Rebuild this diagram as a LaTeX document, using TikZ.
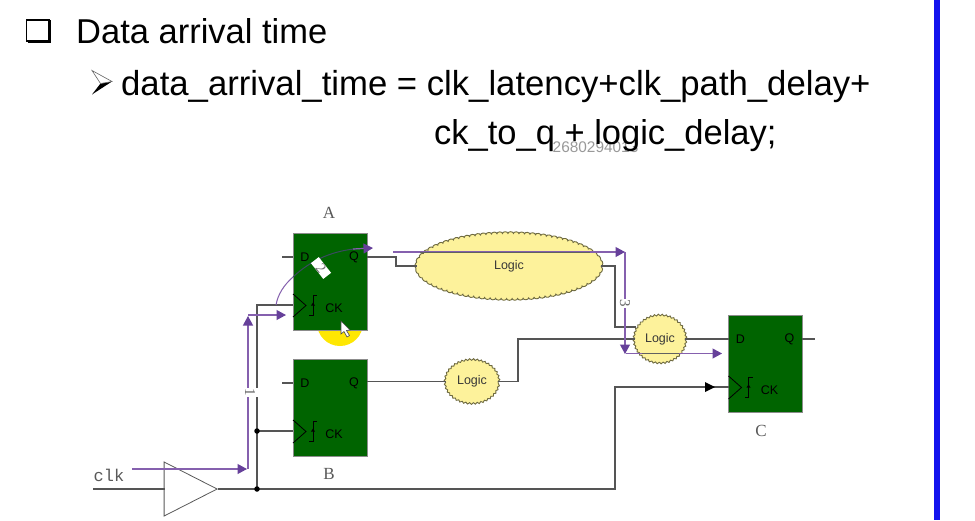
\documentclass[tikz,border=0pt]{standalone}
\usepackage{fontspec}
\setmainfont{Liberation Sans}
\newfontfamily\serifx{Liberation Serif}
\newfontfamily\monox{Liberation Mono}
\usetikzlibrary{arrows.meta,shapes.geometric,decorations.pathmorphing,calc}
\definecolor{ffgreen}{HTML}{006400}
\definecolor{wire}{HTML}{555555}
\definecolor{pur}{HTML}{8560AE}
\definecolor{purdark}{HTML}{66409A}
\definecolor{arcdark}{HTML}{3A4A60}
\definecolor{cloudy}{HTML}{FDF29B}
\definecolor{cloudedge}{HTML}{6E6A40}
\definecolor{slateb}{HTML}{1414EE}
\tikzset{
  x=1pt,y=-1pt,
  headtext/.style={anchor=base west,inner sep=0pt,font=\fontsize{34.5}{34.5}\selectfont,text=black},
  ffbox/.style={draw=black!45,line width=0.6pt,fill=ffgreen,minimum width=74pt,minimum height=97pt,inner sep=0pt},
  cloudn/.style={ellipse,draw=cloudedge,line width=0.9pt,fill=cloudy,inner sep=0pt,text=black!78,
     font=\fontsize{12.5}{12.5}\selectfont,decorate,decoration={bumps,mirror,segment length=#1,amplitude=1.8pt}},
  wirel/.style={draw=wire,line width=1.05pt},
  purl/.style={draw=pur,line width=1.2pt},
  parrow/.style={purl,-{Triangle[length=9.5pt,width=10pt,color=purdark]}},
  pin/.style={inner sep=0pt,text=black,font=\fontsize{12.5}{12.5}\selectfont},
  ftitle/.style={inner sep=0pt,text=black!65,font=\serifx\fontsize{17}{17}\selectfont},
  numlab/.style={fill=white,inner sep=0pt,text=black!60,font=\serifx\fontsize{15}{15}\selectfont},
  jdot/.style={circle,fill=black,inner sep=0pt,minimum size=5.5pt},
}
\newcommand{\ffinner}[1]{%
  \node[pin] at ($(#1.center)+(-25,-24.5)$) {D};
  \node[pin] at ($(#1.center)+(24,-24.5)$) {Q};
  \node[pin] at ($(#1.center)+(4,27)$) {CK};
  \draw[black,line width=0.8pt] ($(#1.center)+(-37,12.5)$) -- ($(#1.center)+(-24,24)$) -- ($(#1.center)+(-37,35.5)$);
  \draw[black,line width=0.9pt] ($(#1.center)+(-13,13.5)$) -- ++(-4,0) -- ++(0,20) -- ++(-4,0);
  \fill[black] ($(#1.center)+(-17,21)$) -- ++(2,3) -- ++(-4,0) -- cycle;
}
\begin{document}
\begin{tikzpicture}
\useasboundingbox (0,0) rectangle (975,520);
\fill[white] (0,0) rectangle (975,520);
% blue edge
\draw[slateb,line width=5.6pt] (937,0) -- (937,520);
% square bullet
\draw[black,line width=1.3pt] (26.5,20) rectangle (49,41);
\draw[black,line width=2.5pt] (28,42.2) -- (50,42.2) -- (50,20);
% arrow bullet
\fill[black] (112,81.5) -- (92,94.5) -- (100.5,83.5) -- cycle;
\draw[black!60,line width=0.6pt,fill=white] (92,70.5) -- (112,81.5) -- (100.5,83.5) -- cycle;
% heading
\node[headtext] (h1) at (76,43) {Data arrival time};
\node[inner sep=0pt,anchor=base west,text=black!40,font=\fontsize{15.4}{15.4}\selectfont] (wm) at (552.5,152) {2680294013};
\node[headtext,font=\fontsize{34.7}{34.7}\selectfont] (h2) at (121,95) {data\_arrival\_time = clk\_latency+clk\_path\_delay+};
\node[headtext] (h3) at (434,144) {ck\_to\_q + logic\_delay;};
% highlight
\fill[yellow!90!orange] (340,323) circle (23pt);
% flip flops
\node[ffbox] (A) at (330,281.5) {};
\node[ffbox] (B) at (330,407.5) {};
\node[ffbox] (C) at (765.5,363.5) {};
\ffinner{A}\ffinner{B}\ffinner{C}
\node[ftitle] (tA) at (329,213) {A};
\node[ftitle] (tB) at (329,474) {B};
\node[ftitle] (tC) at (761,431) {C};
\node[inner sep=0pt,text=black!65,font=\monox\fontsize{17}{17}\selectfont] (clk) at (109,475) {clk};
% buffer
\node[draw=black!65,line width=0.8pt,fill=white,isosceles triangle,isosceles triangle apex angle=54,
  minimum height=53pt,inner sep=0pt,anchor=apex] (buf) at (218,489) {};
% clouds
\node[cloudn=11pt,minimum width=184pt,minimum height=65pt] (L1) at (509,266) {Logic};
\node[cloudn=7.5pt,minimum width=52pt,minimum height=42pt] (L2) at (472,381.5) {Logic};
\node[cloudn=7.5pt,minimum width=50pt,minimum height=46pt] (L3) at (660,339) {Logic};
% named points
\coordinate (jclk) at (257,489);
\coordinate (jB) at (257,431);
\coordinate (ckA) at (293,305);
\coordinate (ckB) at (293,431);
\coordinate (ckC) at (729,387);
\coordinate (clkin) at (93,489);
\coordinate (qA) at (367,257);
\coordinate (dAs) at (282,257);
\coordinate (dA) at (293,257);
\coordinate (qB) at (367,381.5);
\coordinate (dBs) at (282,383);
\coordinate (dB) at (293,383);
\coordinate (qC) at (802,339);
\coordinate (qCs) at (815,339);
\coordinate (dC) at (729,339);
\coordinate (up) at (615,489);
% wires
\draw[wirel] (clkin) -- (165,489);
\draw[wirel] (buf.apex) -- (jclk) -- (up) -- (615,387) -- (ckC);
\draw[wirel] (jclk) -- (257,305) -- (ckA);
\draw[wirel] (jB) -- (ckB);
\draw[wirel] (dAs) -- (dA);
\draw[wirel] (dBs) -- (dB);
\draw[wirel] (qA) -- (396,257) -- (396,266) -- (L1.west);
\draw[wirel] (L1.east) -- (615,266) -- (615,327) -- (636,327);
\draw[wirel] (qB) -- (L2.west);
\draw[wirel] (L2.east) -- (518,381.5) -- (518,339) -- (L3.west);
\draw[wirel] (L3.east) -- (dC);
\draw[wirel] (qC) -- (qCs);
\fill[black] (705,382) -- (715,387) -- (705,392) -- cycle;
\node[jdot] (d1) at (jclk) {};
\node[jdot] (d2) at (jB) {};
% purple path
\draw[parrow] (132,469) -- (247,469);
\draw[parrow] (248,469) -- (248,316);
\draw[parrow] (248,315) -- (286,315);
\draw[pur,line width=1pt] (276,305) .. controls (278,294) and (284,285) .. (293,277);
\draw[arcdark,line width=1pt] (293,277) .. controls (312,259) and (335,250) .. (360,248.5);
\draw[parrow] (353,249) -- (373,248);
\draw[parrow] (393,252) -- (625,252);
\draw[draw=black!62,line width=1pt] (420,252) -- (590,252);
\draw[parrow] (625,252) -- (625,354);
\draw[parrow] (626,353.5) -- (722,353.5);
\draw[draw=black!62,line width=1pt] (642,353.5) -- (679,353.5);
% numbers
\node[numlab,rotate=-90,minimum width=9pt,minimum height=17pt] (n1) at (250,392) {1};
\node[numlab,rotate=-90,minimum width=9pt,minimum height=14pt] (n3) at (625,303) {3};
\node[numlab,rotate=-52,minimum width=20pt,minimum height=9pt,text=black!55] (n2) at (321,268) {2};
% cursor
\draw[black!70,line width=0.6pt,fill=white] (341,321) -- (341,334) -- (344,331.5) -- (347,337) -- (349.5,335.5) -- (346.5,330.5) -- (350,330) -- cycle;
\end{tikzpicture}
\end{document}
